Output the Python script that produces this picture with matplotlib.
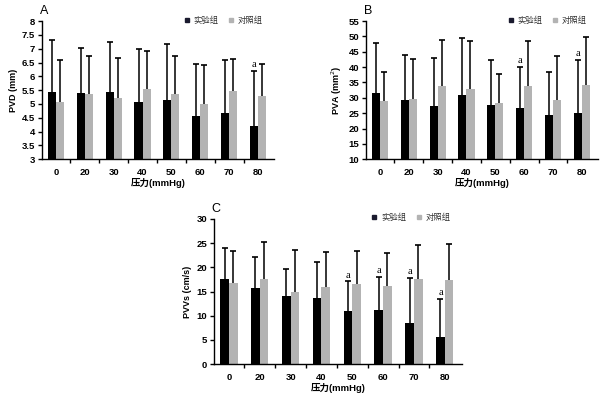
import matplotlib
matplotlib.use("Agg")
import matplotlib.pyplot as plt
from matplotlib.lines import Line2D
import numpy as np

plt.rcParams["font.family"] = ["Liberation Sans", "Noto Sans CJK SC"]

pressure = ["0", "20", "30", "40", "50", "60", "70", "80"]
legend_names = ["实验组", "对照组"]

# A: PVD (mm)
pvd_exp = [5.45, 5.40, 5.45, 5.08, 5.15, 4.57, 4.68, 4.22]
pvd_exp_top = [7.30, 7.03, 7.25, 7.00, 7.18, 6.43, 6.60, 6.20]
pvd_ctl = [5.07, 5.35, 5.20, 5.53, 5.35, 5.00, 5.48, 5.30]
pvd_ctl_top = [6.60, 6.75, 6.68, 6.90, 6.75, 6.40, 6.62, 6.45]
pvd_mark = [7]

# B: PVA (mm2)
pva_exp = [31.5, 29.2, 27.3, 30.9, 27.5, 26.7, 24.4, 25.0]
pva_exp_top = [48.0, 43.8, 43.1, 49.5, 42.3, 40.0, 38.3, 42.3]
pva_ctl = [29.0, 29.6, 33.7, 32.8, 28.3, 33.8, 29.3, 34.2]
pva_ctl_top = [38.3, 42.8, 49.0, 48.5, 37.8, 48.5, 43.7, 49.8]
pva_mark = [5, 7]

# C: PVVs (cm/s)
pvv_exp = [17.6, 15.7, 14.0, 13.7, 10.9, 11.1, 8.6, 5.6]
pvv_exp_top = [23.9, 22.2, 19.6, 21.2, 17.1, 18.1, 17.8, 13.5]
pvv_ctl = [16.7, 17.6, 15.0, 15.9, 16.6, 16.2, 17.6, 17.4]
pvv_ctl_top = [23.4, 25.3, 23.6, 23.1, 23.3, 22.9, 24.6, 24.9]
pvv_mark = [4, 5, 6, 7]

GRAY = "#b3b3b3"


def panel(ax, letter, ylabel, exp, exp_top, ctl, ctl_top, marks, ylim, ystep, yfmt):
    x = np.arange(len(pressure))
    w = 0.28
    ax.bar(x - w / 2, exp, w, color="black", zorder=2)
    ax.bar(x + w / 2, ctl, w, color=GRAY, zorder=2)
    ax.vlines(x - w / 2, exp, exp_top, color="black", lw=1.1, zorder=3)
    ax.vlines(x + w / 2, ctl, ctl_top, color="black", lw=1.1, zorder=3)
    ax.plot(x - w / 2, exp_top, ls="none", marker="_", ms=4, mew=1.2, color="black", zorder=3)
    ax.plot(x + w / 2, ctl_top, ls="none", marker="_", ms=4, mew=1.2, color="black", zorder=3)
    for i in marks:
        ax.text(i - w / 2, exp_top[i] + (ylim[1] - ylim[0]) * 0.012, "a",
                family="Liberation Serif", fontsize=7.5, ha="center", va="bottom")

    ax.set_xlim(-0.48, 7.55)
    ax.set_ylim(*ylim)
    ax.set_xticks(x)
    ax.set_xticklabels(pressure)
    ax.set_xticks(np.arange(0.5, 7.5, 1.0), minor=True)
    ax.tick_params(axis="x", which="major", length=0, pad=6)
    ax.tick_params(axis="x", which="minor", length=3, width=1, direction="out")
    yt = np.arange(ylim[0], ylim[1] + ystep / 2, ystep)
    ax.set_yticks(yt)
    ax.set_yticklabels([yfmt(v) for v in yt])
    ax.tick_params(axis="y", length=3, width=1, direction="out", pad=2)
    for lab in ax.get_xticklabels() + ax.get_yticklabels():
        lab.set_fontsize(6.8)
        lab.set_fontweight("bold")
    for s in ["top", "right"]:
        ax.spines[s].set_visible(False)
    for s in ["left", "bottom"]:
        ax.spines[s].set_linewidth(1.0)

    ax.set_ylabel(ylabel, fontsize=6.5, fontweight="bold", labelpad=3)
    ax.set_xlabel("压力(mmHg)", fontsize=6.8, fontweight="bold", labelpad=1)
    ax.text(-0.01, 1.03, letter, transform=ax.transAxes, fontsize=9, ha="left", va="bottom")

    handles = [Line2D([], [], ls="none", marker="s", ms=2.8, color="#1a1a2e"),
               Line2D([], [], ls="none", marker="s", ms=2.8, color=GRAY)]
    leg = ax.legend(handles, legend_names, loc="upper right", bbox_to_anchor=(0.985, 1.09),
                    ncol=2, frameon=False, fontsize=6, handlelength=0.6,
                    handletextpad=0.5, columnspacing=1.2)
    for t in leg.get_texts():
        t.set_color("#333333")


fig = plt.figure(figsize=(6.1, 3.98), dpi=100)
axA = fig.add_axes([0.069, 0.600, 0.380, 0.347])
axB = fig.add_axes([0.600, 0.600, 0.380, 0.347])
axC = fig.add_axes([0.351, 0.085, 0.406, 0.365])

panel(axA, "A", "PVD (mm)", pvd_exp, pvd_exp_top, pvd_ctl, pvd_ctl_top, pvd_mark,
      (3, 8), 0.5, lambda v: ("%g" % v))
panel(axB, "B", "PVA (mm$^2$)", pva_exp, pva_exp_top, pva_ctl, pva_ctl_top, pva_mark,
      (10, 55), 5, lambda v: "%d" % v)
panel(axC, "C", "PVVs (cm/s)", pvv_exp, pvv_exp_top, pvv_ctl, pvv_ctl_top, pvv_mark,
      (0, 30), 5, lambda v: "%d" % v)

fig.savefig("out.png", dpi=100)
